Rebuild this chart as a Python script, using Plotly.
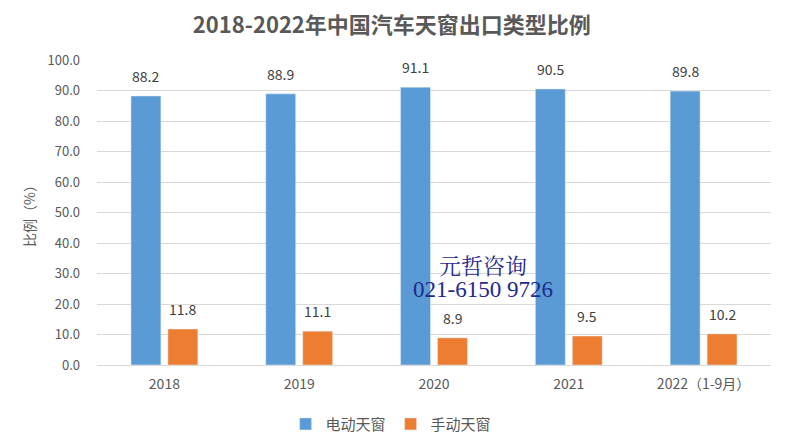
import plotly.graph_objects as go

categories = ["2018", "2019", "2020", "2021", "2022（1-9月）"]
electric = [88.2, 88.9, 91.1, 90.5, 89.8]
manual = [11.8, 11.1, 8.9, 9.5, 10.2]
y_ticks = [0, 10, 20, 30, 40, 50, 60, 70, 80, 90, 100]

font_cjk = "Noto Sans CJK SC, Microsoft YaHei, sans-serif"

fig = go.Figure()
fig.add_trace(go.Bar(x=categories, y=electric, name="电动天窗", marker_color="#5B9BD5"))
fig.add_trace(go.Bar(x=categories, y=manual, name="手动天窗", marker_color="#ED7D31"))

# data labels (x given as category index on the category axis)
for series, shift in ((electric, -18.5), (manual, 18.5)):
    for i, v in enumerate(series):
        fig.add_annotation(x=i, y=v, text=f"{v:.1f}", showarrow=False,
                           xshift=shift, yshift=20, yanchor="middle",
                           font=dict(size=14, color="#404040"))

fig.update_layout(
    width=785, height=447,
    margin=dict(l=89, r=22, t=52, b=90, autoexpand=False),
    paper_bgcolor="white", plot_bgcolor="white",
    font=dict(family=font_cjk, color="#595959", size=13),
    title=dict(text="<b>2018-2022年中国汽车天窗出口类型比例</b>", x=0.489, xanchor="center",
               xref="container", yref="container",
               y=0.962, yanchor="middle",
               font=dict(size=22, color="#595959", family=font_cjk)),
    barmode="group", bargap=0.452, bargroupgap=0.19,
    legend=dict(orientation="h", x=0.488, xanchor="center", xref="container",
                y=0.069, yanchor="middle", yref="container",
                font=dict(size=15, color="#595959"), itemwidth=30, tracegroupgap=0),
    showlegend=True,
)
fig.update_yaxes(
    range=[0, 100], tickvals=y_ticks, ticktext=[f"{v:.1f}" for v in y_ticks],
    showgrid=True, gridcolor="#D9D9D9", gridwidth=1, zeroline=False,
    showline=False, tickfont=dict(size=13, color="#595959"),
    title=dict(text="比例（%）", font=dict(size=14, color="#595959"), standoff=8),
    ticks="", ticklabelstandoff=16, automargin=False,
)
fig.update_xaxes(
    type="category", range=[-0.5, len(categories) - 0.5],
    showline=True, linecolor="#D9D9D9", linewidth=1, ticks="",
    tickfont=dict(size=14, color="#595959"), automargin=False, ticklabelstandoff=6,
)

fig.add_annotation(x=0.573, y=0.328, xref="paper", yref="paper", text="元哲咨询",
                   showarrow=False, yanchor="middle",
                   font=dict(size=22, color="#1F2A8C", family="Noto Serif CJK SC, Liberation Serif, serif"))
fig.add_annotation(x=0.573, y=0.249, xref="paper", yref="paper", text="021-6150 9726",
                   showarrow=False, yanchor="middle",
                   font=dict(size=23, color="#1F2A8C", family="Liberation Serif, serif"))

fig.write_html("out.html")
